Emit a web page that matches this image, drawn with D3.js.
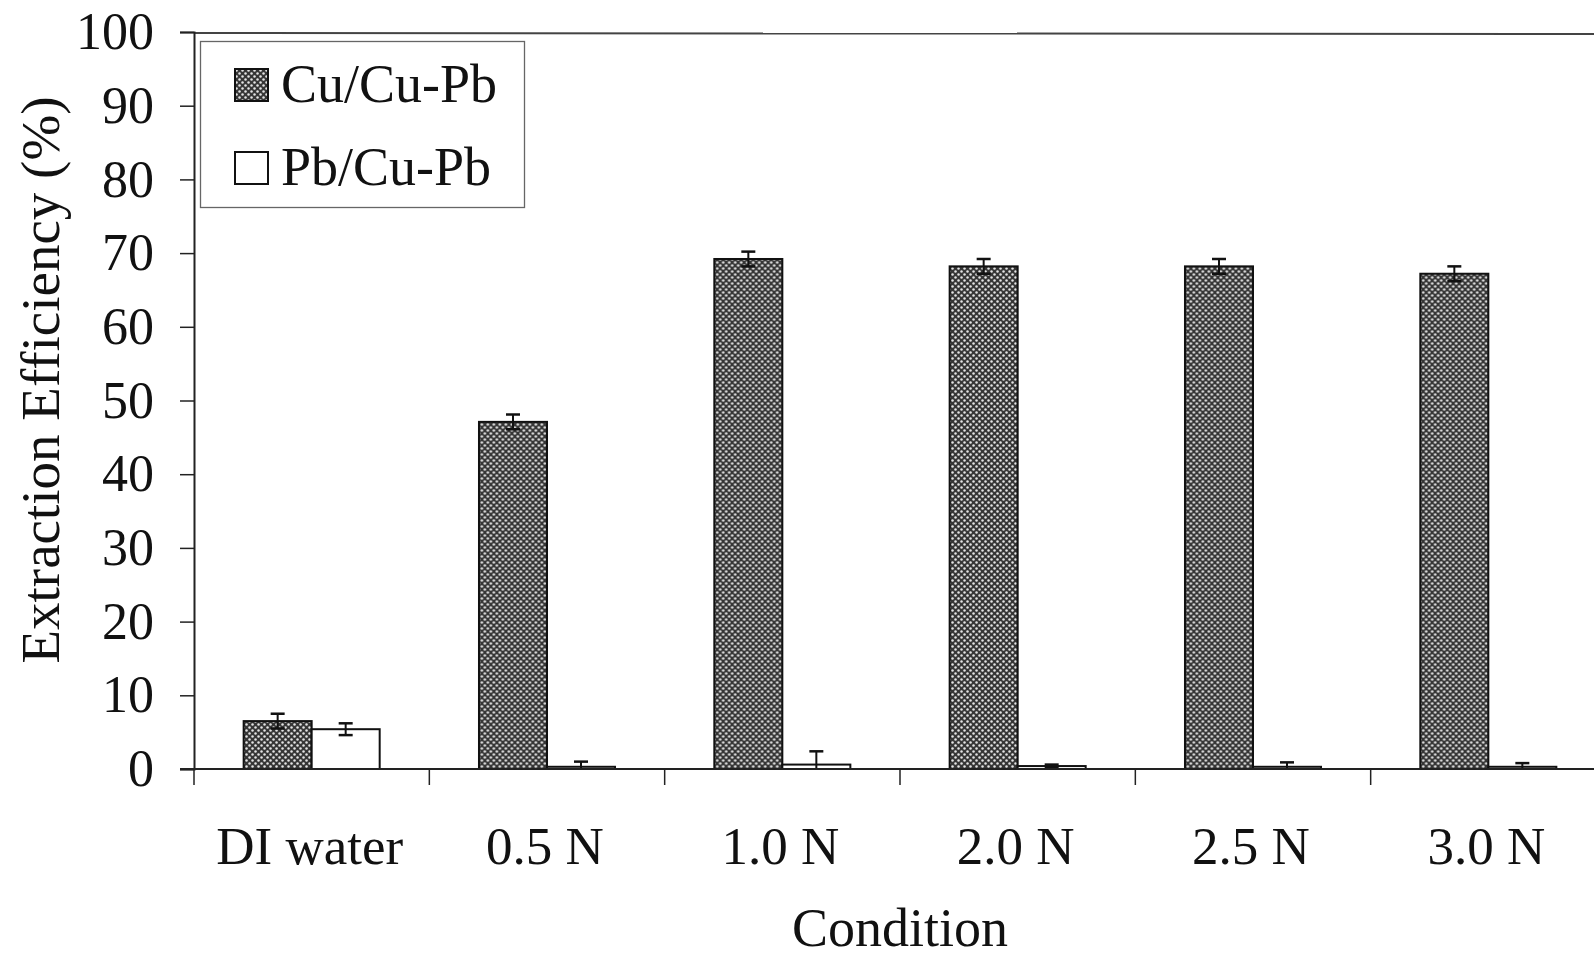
<!DOCTYPE html>
<html>
<head>
<meta charset="utf-8">
<script src="https://cdn.jsdelivr.net/npm/d3@7"></script>
<style>
  html, body { margin: 0; padding: 0; background: #ffffff; }
  svg { display: block; }
  text { font-family: "Liberation Serif", "Times New Roman", serif; fill: #111; }
</style>
</head>
<body>
<script>
// Extraction efficiency by leaching condition
const categories = ["DI water", "0.5 N", "1.0 N", "2.0 N", "2.5 N", "3.0 N"];
const seriesNames = ["Cu/Cu-Pb", "Pb/Cu-Pb"];
const cuValues = [6.5, 47.1, 69.2, 68.2, 68.2, 67.2];
const cuErrors = [1.0, 1.0, 1.0, 1.0, 1.0, 1.0];
const pbValues = [5.4, 0.3, 0.6, 0.4, 0.3, 0.3];
const pbErrors = [0.8, 0.7, 1.8, 0.2, 0.6, 0.5];
const yTicks = [0, 10, 20, 30, 40, 50, 60, 70, 80, 90, 100];

const W = 1594, H = 960;
const plot = { left: 194, top: 32, bottom: 769, right: 1606 };

const svg = d3.select("body").append("svg")
  .attr("width", W).attr("height", H);

// Cross-hatch fill for the Cu series
const defs = svg.append("defs");
const pat = defs.append("pattern")
  .attr("id", "hatch").attr("patternUnits", "userSpaceOnUse")
  .attr("width", 6).attr("height", 6);
pat.append("rect").attr("width", 6).attr("height", 6).attr("fill", "#363636");
pat.append("circle").attr("cx", 1.5).attr("cy", 1.5).attr("r", 1.25).attr("fill", "#e4e4e4");
pat.append("circle").attr("cx", 4.5).attr("cy", 4.5).attr("r", 1.25).attr("fill", "#e4e4e4");

const x0 = d3.scaleBand().domain(categories).range([plot.left, plot.right]).paddingInner(0).paddingOuter(0);
const x1 = d3.scaleBand().domain(seriesNames).range([0, x0.bandwidth()]).paddingInner(0).paddingOuter(0.73);
const y = d3.scaleLinear().domain([0, 100]).range([plot.bottom, plot.top]);

const rows = categories.map((c, i) => ({
  cat: c,
  bars: [
    { s: seriesNames[0], v: cuValues[i], e: cuErrors[i] },
    { s: seriesNames[1], v: pbValues[i], e: pbErrors[i] }
  ]
}));

// Top frame line
svg.append("line")
  .attr("x1", plot.left).attr("x2", W)
  .attr("y1", y(100) + 1).attr("y2", y(100) + 2)
  .attr("stroke", "#444").attr("stroke-width", 2);

// Bars
const groups = svg.append("g").selectAll("g").data(rows).join("g")
  .attr("transform", d => `translate(${x0(d.cat)},0)`);

groups.selectAll("rect").data(d => d.bars).join("rect")
  .attr("x", d => x1(d.s))
  .attr("y", d => y(d.v))
  .attr("width", x1.bandwidth())
  .attr("height", d => y(0) - y(d.v))
  .attr("fill", d => d.s === seriesNames[0] ? "url(#hatch)" : "#ffffff")
  .attr("stroke", "#111").attr("stroke-width", 2);

// Error bars (clipped at the axis minimum)
const eb = groups.selectAll("g.err").data(d => d.bars).join("g").attr("class", "err");
eb.append("line")
  .attr("x1", d => x1(d.s) + x1.bandwidth() / 2)
  .attr("x2", d => x1(d.s) + x1.bandwidth() / 2)
  .attr("y1", d => y(d.v + d.e))
  .attr("y2", d => y(Math.max(0, d.v - d.e)))
  .attr("stroke", "#111").attr("stroke-width", 2);
eb.append("line")
  .attr("x1", d => x1(d.s) + x1.bandwidth() / 2 - 7)
  .attr("x2", d => x1(d.s) + x1.bandwidth() / 2 + 7)
  .attr("y1", d => y(d.v + d.e)).attr("y2", d => y(d.v + d.e))
  .attr("stroke", "#111").attr("stroke-width", 2.5);
eb.filter(d => d.v - d.e > 0).append("line")
  .attr("x1", d => x1(d.s) + x1.bandwidth() / 2 - 7)
  .attr("x2", d => x1(d.s) + x1.bandwidth() / 2 + 7)
  .attr("y1", d => y(d.v - d.e)).attr("y2", d => y(d.v - d.e))
  .attr("stroke", "#111").attr("stroke-width", 2.5);

// Y axis
const yAxis = d3.axisLeft(y).tickValues(yTicks).tickSize(14).tickPadding(26);
const gy = svg.append("g").attr("transform", `translate(${plot.left},0)`).call(yAxis);
gy.select(".domain").attr("stroke", "#222").attr("stroke-width", 2);
gy.selectAll(".tick line").attr("stroke", "#222").attr("stroke-width", 1.5);
gy.selectAll(".tick text")
  .style("font-family", "'Liberation Serif', 'Times New Roman', serif")
  .style("font-size", "52px").attr("fill", "#111");

// X axis: ticks at category boundaries
const gx = svg.append("g").attr("transform", `translate(0,${plot.bottom})`);
gx.append("line").attr("x1", plot.left - 14).attr("x2", W)
  .attr("stroke", "#222").attr("stroke-width", 2);
gx.selectAll("line.bt").data(categories).join("line").attr("class", "bt")
  .attr("x1", d => x0(d)).attr("x2", d => x0(d))
  .attr("y1", 0).attr("y2", 16)
  .attr("stroke", "#222").attr("stroke-width", 1.5);
gx.selectAll("text").data(categories).join("text")
  .attr("x", d => x0(d) + x0.bandwidth() / 2 - 2)
  .attr("y", 95)
  .attr("text-anchor", "middle")
  .style("font-size", "53px")
  .text(d => d);

// Axis titles
svg.append("text")
  .attr("x", (plot.left + plot.right) / 2).attr("y", 946)
  .attr("text-anchor", "middle").style("font-size", "54px")
  .text("Condition");
svg.append("text")
  .attr("transform", `translate(59,380) rotate(-90)`)
  .attr("text-anchor", "middle").style("font-size", "55px")
  .text("Extraction Efficiency (%)");

// Legend
const lg = svg.append("g");
lg.append("rect").attr("x", 200.5).attr("y", 41.5).attr("width", 324).attr("height", 166)
  .attr("fill", "#ffffff").attr("stroke", "#666").attr("stroke-width", 1.3);
const legendRows = lg.selectAll("g").data(seriesNames).join("g")
  .attr("transform", (d, i) => `translate(235,${69 + i * 83})`);
legendRows.append("rect").attr("width", 33).attr("height", 32)
  .attr("fill", (d, i) => i === 0 ? "url(#hatch)" : "#ffffff")
  .attr("stroke", "#111").attr("stroke-width", 2);
legendRows.append("text").attr("x", 46).attr("y", 33)
  .style("font-size", "54px").text(d => d);
</script>
</body>
</html>
